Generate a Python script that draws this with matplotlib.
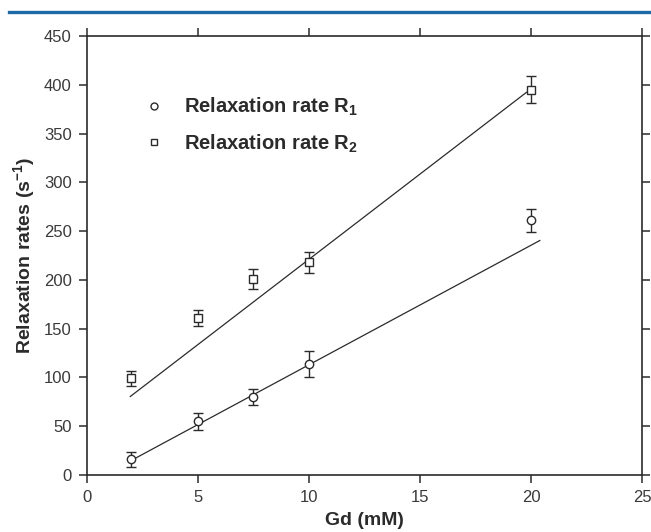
import matplotlib
matplotlib.use("Agg")
import matplotlib.pyplot as plt
from matplotlib.lines import Line2D
import numpy as np

plt.rcParams['font.family'] = ['Liberation Sans', 'DejaVu Sans']
plt.rcParams['mathtext.fontset'] = 'custom'
plt.rcParams['mathtext.rm'] = 'Liberation Sans:bold'
plt.rcParams['mathtext.bf'] = 'Liberation Sans:bold'
plt.rcParams['mathtext.default'] = 'rm'

# Data
gd = [2, 5, 7.5, 10, 20]
r1 = [16, 55, 80, 114, 261]
r1_err = [7.5, 8.5, 8, 13.5, 11.5]
r2 = [99, 161, 201, 218, 395]
r2_err = [7.5, 8.5, 10, 11, 14]

# Fitted lines (slope, intercept) and x-range as drawn
r1_fit = (12.25, -9.5)
r1_fit_x = [2, 20.4]
r2_fit = (17.47, 46.4)
r2_fit_x = [1.95, 19.8]

xticks = [0, 5, 10, 15, 20, 25]
yticks = [0, 50, 100, 150, 200, 250, 300, 350, 400, 450]

ink = '#2b2b2b'

fig = plt.figure(figsize=(6.51, 5.32), dpi=100)
ax = fig.add_axes([0.1336, 0.1071, 0.8525, 0.8252])

# blue rule on top of the page
fig.add_artist(Line2D([0.014, 1.0], [0.977, 0.977], transform=fig.transFigure,
                      color='#1d6aa6', lw=2.4))

for fit, xr in [(r1_fit, r1_fit_x), (r2_fit, r2_fit_x)]:
    xs = np.array(xr)
    ax.plot(xs, fit[0] * xs + fit[1], color=ink, lw=0.9)

ax.errorbar(gd, r1, yerr=r1_err, fmt='o', ms=6, mfc='white', mec=ink, mew=1.0,
            ecolor=ink, elinewidth=1.0, capsize=3.5, capthick=1.0)
ax.errorbar(gd, r2, yerr=r2_err, fmt='s', ms=6, mfc='white', mec=ink, mew=1.0,
            ecolor=ink, elinewidth=1.0, capsize=3.5, capthick=1.0)

ax.set_xlim(0, 25)
ax.set_ylim(0, 450)
ax.set_xticks(xticks)
ax.set_yticks(yticks)
ax.tick_params(direction='out', length=6, width=1.1, color=ink,
               top=True, right=True, labelsize=12, labelcolor='#3a3a3a', pad=5)
for s in ax.spines.values():
    s.set_linewidth(1.2)
    s.set_color(ink)

ax.set_xlabel('Gd (mM)', fontsize=14, fontweight='bold', color=ink, labelpad=5)
ax.set_ylabel('Relaxation rates (s$^{-1}$)', fontsize=14, fontweight='bold',
              color=ink, labelpad=5)

# legend markers only
handles = [Line2D([], [], ls='none', marker='o', ms=5, mfc='white', mec=ink, mew=1.0),
           Line2D([], [], ls='none', marker='s', ms=5, mfc='white', mec=ink, mew=1.0)]
labels = ['Relaxation rate R$_1$', 'Relaxation rate R$_2$']
leg = ax.legend(handles, labels, loc='upper left', bbox_to_anchor=(0.07, 0.905),
                frameon=False, handlelength=1.0, handletextpad=1.0,
                labelspacing=0.7, prop={'size': 14.5, 'weight': 'bold'})
for t in leg.get_texts():
    t.set_color(ink)

fig.savefig('out.png', dpi=100)
